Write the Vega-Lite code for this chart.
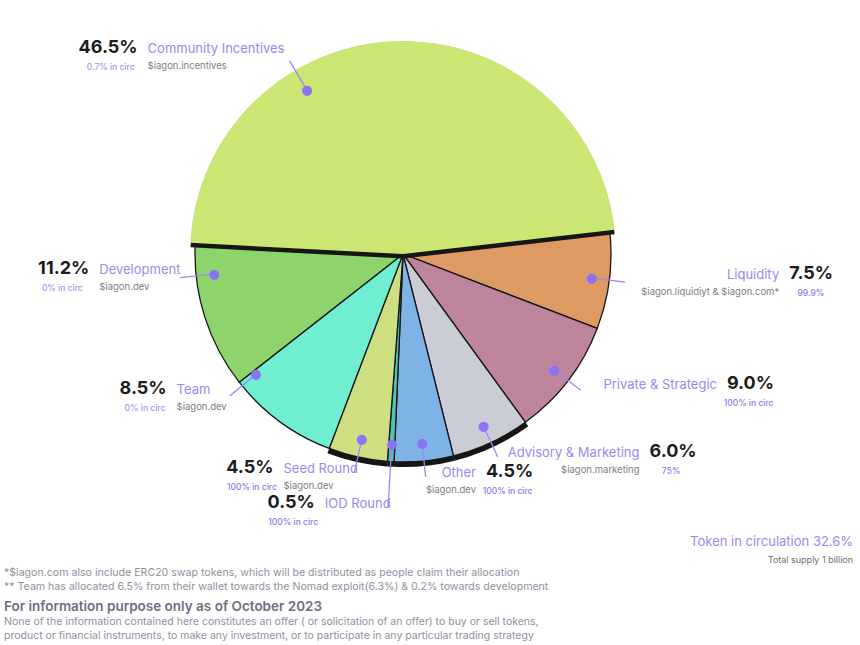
{
  "$schema": "https://vega.github.io/schema/vega-lite/v6.json",
  "background": "white",
  "padding": 0,
  "config": {"view": {"stroke": null}, "font": "Inter", "concat": {"spacing": 0}},
  "datasets": {
    "alloc": [
      {"name": "Community Incentives", "value": 46.5, "circ": 0.7, "circLabel": "0.7% in circ", "token": "$iagon.incentives", "rank": 1},
      {"name": "Liquidity", "value": 7.5, "circ": 99.9, "circLabel": "99.9%", "token": "$iagon.liquidiyt & $iagon.com*", "rank": 2},
      {"name": "Private & Strategic", "value": 9.0, "circ": 100, "circLabel": "100% in circ", "token": "", "rank": 3},
      {"name": "Advisory & Marketing", "value": 6.0, "circ": 75, "circLabel": "75%", "token": "$iagon.marketing", "rank": 4},
      {"name": "Other", "value": 4.5, "circ": 100, "circLabel": "100% in circ", "token": "$iagon.dev", "rank": 5},
      {"name": "IOD Round", "value": 0.5, "circ": 100, "circLabel": "100% in circ", "token": "", "rank": 6},
      {"name": "Seed Round", "value": 4.5, "circ": 100, "circLabel": "100% in circ", "token": "$iagon.dev", "rank": 7},
      {"name": "Team", "value": 8.5, "circ": 0, "circLabel": "0% in circ", "token": "$iagon.dev", "rank": 8},
      {"name": "Development", "value": 11.2, "circ": 0, "circLabel": "0% in circ", "token": "$iagon.dev", "rank": 9}
    ]
  },
  "title": {
    "text": "For information purpose only as of  October 2023",
    "subtitle": ["None of the information contained here constitutes an offer ( or solicitation of an offer) to buy or sell tokens,", "product or financial instruments, to make any investment, or to participate in any particular trading strategy"],
    "orient": "bottom", "anchor": "start", "frame": "group", "dx": 4, "offset": 7,
    "fontSize": 13.5, "fontWeight": 600, "color": "#6c6e80",
    "subtitleFontSize": 10.5, "subtitleColor": "#8f90a0", "subtitleLineHeight": 14, "subtitlePadding": 4
  },
  "vconcat": [
    {
      "title": {
        "text": ["*$iagon.com also include ERC20 swap tokens, which will be distributed as people claim their allocation", "** Team has allocated 6.5% from their wallet towards the Nomad exploit(6.3%) & 0.2% towards development"],
        "orient": "bottom", "anchor": "start", "frame": "group", "dx": 4, "offset": 3,
        "fontSize": 10.6, "fontWeight": 400, "color": "#8f90a0", "lineHeight": 14
      },
      "vconcat": [
        {
          "width": 806,
          "height": 508,
          "data": {"name": "alloc"},
          "title": {
            "text": "Token in circulation  32.6%",
            "subtitle": "Total supply  1 billion",
            "orient": "bottom", "anchor": "end", "frame": "bounds", "offset": 10, "dx": 20,
            "fontSize": 13, "fontWeight": 400, "color": "#9d87f5",
            "subtitleFontSize": 9, "subtitleColor": "#6f6f6f", "subtitlePadding": 7
          },
          "encoding": {
            "theta": {"field": "value", "type": "quantitative", "stack": true, "scale": {"range": [4.765, 11.048]}},
            "order": {"field": "rank", "type": "quantitative"}
          },
          "layer": [
            {
              "mark": {"type": "arc", "radius": 213, "fill": "#161616"},
              "encoding": {"opacity": {"condition": {"test": "indexof(['Advisory & Marketing','Other','IOD Round','Seed Round'], datum.name) >= 0", "value": 1}, "value": 0}}
            },
            {
              "mark": {"type": "arc", "radius": 208, "stroke": "#161616", "strokeWidth": 1.3},
              "encoding": {
                "color": {"field": "name", "type": "nominal", "legend": null,
                  "scale": {"domain": ["Community Incentives", "Liquidity", "Private & Strategic", "Advisory & Marketing", "Other", "IOD Round", "Seed Round", "Team", "Development"],
                            "range": ["#cce674", "#dd9a63", "#bd849c", "#cbcdd6", "#80b3e5", "#4fc3b2", "#cddf80", "#70eed1", "#8dd46d"]}}
              }
            },
            {
              "mark": {"type": "arc", "radius": 208, "stroke": "#161616", "strokeWidth": 9, "fill": "#cce674"},
              "encoding": {"opacity": {"condition": {"test": "datum.name === 'Community Incentives'", "value": 1}, "value": 0}}
            },
            {
              "mark": {"type": "arc", "radius": 213, "fill": "#cce674"},
              "encoding": {"opacity": {"condition": {"test": "datum.name === 'Community Incentives'", "value": 1}, "value": 0}}
            },
            {
              "mark": {"type": "arc", "radius": {"expr": "datum.name === 'IOD Round' ? 254 : 224"}, "radius2": 190, "padAngle": 3.3, "stroke": "#9d87f5", "strokeWidth": 1.3, "fillOpacity": 0,
                "thetaOffset": {"expr": "datum.name === 'Community Incentives' ? -0.5 : datum.name === 'Development' ? 0.2 : datum.name === 'Team' ? 0.25 : 0"}}
            },
            {
              "mark": {"type": "text", "text": "●", "radius": 190, "font": "DejaVu Sans", "fontSize": 13, "fill": "#8d72f3", "baseline": "middle", "align": "center",
                "thetaOffset": {"expr": "datum.name === 'Community Incentives' ? -0.5 : datum.name === 'Development' ? 0.2 : datum.name === 'Team' ? 0.25 : 0"}}
            },
            {
              "mark": {"type": "text", "text": {"expr": "format(datum.value, '.1f') + '%'"},
                "radius": {"expr": "datum.name === 'IOD Round' ? 258 : 228"},
                "thetaOffset": {"expr": "datum.name === 'Community Incentives' ? -0.5 : datum.name === 'Development' ? 0.2 : datum.name === 'Team' ? 0.25 : 0"},
                "fontSize": 18, "fontWeight": 700, "fill": "#1c1c1c", "baseline": "alphabetic", "dy": -4,
                "align": {"expr": "indexof(['Liquidity','Private & Strategic','Advisory & Marketing','Other'], datum.name) >= 0 ? 'left' : 'right'"},
                "dx": {"expr": "(indexof(['Liquidity','Private & Strategic','Advisory & Marketing','Other'], datum.name) >= 0 ? 1 : -1) * (max(length(datum.name) * 7, length(datum.token) * 5) + 10)"}}
            },
            {
              "mark": {"type": "text",
                "radius": {"expr": "datum.name === 'IOD Round' ? 258 : 228"},
                "thetaOffset": {"expr": "datum.name === 'Community Incentives' ? -0.5 : datum.name === 'Development' ? 0.2 : datum.name === 'Team' ? 0.25 : 0"},
                "fontSize": 13, "fill": "#9d87f5", "baseline": "alphabetic", "dy": -4,
                "align": {"expr": "indexof(['Liquidity','Private & Strategic','Advisory & Marketing','Other'], datum.name) >= 0 ? 'right' : 'left'"},
                "dx": {"expr": "(indexof(['Liquidity','Private & Strategic','Advisory & Marketing','Other'], datum.name) >= 0 ? 1 : -1) * max(length(datum.name) * 7, length(datum.token) * 5)"}},
              "encoding": {"text": {"field": "name", "type": "nominal"}}
            },
            {
              "mark": {"type": "text",
                "radius": {"expr": "datum.name === 'IOD Round' ? 258 : 228"},
                "thetaOffset": {"expr": "datum.name === 'Community Incentives' ? -0.5 : datum.name === 'Development' ? 0.2 : datum.name === 'Team' ? 0.25 : 0"},
                "fontSize": 9.5, "fill": "#7d7d84", "baseline": "top", "dy": 4,
                "align": {"expr": "indexof(['Liquidity','Private & Strategic','Advisory & Marketing','Other'], datum.name) >= 0 ? 'right' : 'left'"},
                "dx": {"expr": "(indexof(['Liquidity','Private & Strategic','Advisory & Marketing','Other'], datum.name) >= 0 ? 1 : -1) * max(length(datum.name) * 7, length(datum.token) * 5)"}},
              "encoding": {"text": {"field": "token", "type": "nominal"}}
            },
            {
              "mark": {"type": "text",
                "radius": {"expr": "datum.name === 'IOD Round' ? 258 : 228"},
                "thetaOffset": {"expr": "datum.name === 'Community Incentives' ? -0.5 : datum.name === 'Development' ? 0.2 : datum.name === 'Team' ? 0.25 : 0"},
                "fontSize": 8.5, "fontWeight": 500, "baseline": "middle", "dy": 10, "align": "center",
                "dx": {"expr": "(indexof(['Liquidity','Private & Strategic','Advisory & Marketing','Other'], datum.name) >= 0 ? 1 : -1) * (max(length(datum.name) * 7, length(datum.token) * 5) + 10 + (length(format(datum.value, '.1f')) + 1) * 5.4)"}},
              "encoding": {
                "text": {"field": "circLabel", "type": "nominal"},
                "fill": {"condition": {"test": "datum.circ >= 50", "value": "#8b78ee"}, "value": "#a596f5"}
              }
            }
          ]
        }
      ]
    }
  ]
}
